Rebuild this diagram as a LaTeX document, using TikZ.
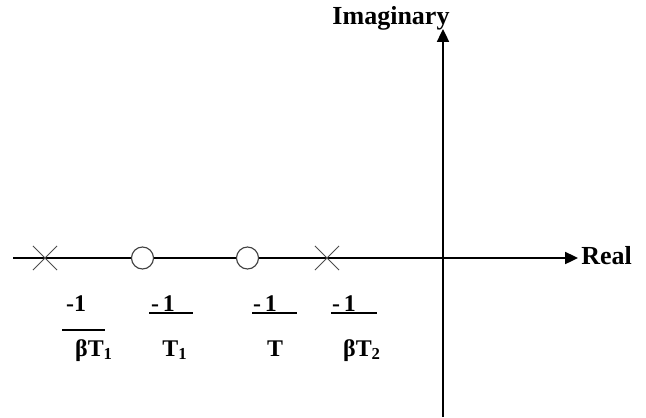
\documentclass[tikz,border=0pt]{standalone}
\usepackage{fontspec}
\setmainfont{Liberation Serif}
\usetikzlibrary{arrows.meta, shapes.misc}
\tikzset{
  >={Triangle[length=3.2mm,width=3mm]},
  axis/.style={line width=1.2pt, ->},
  pole/.style={cross out, draw=black!70, line width=0.7pt,
    minimum size=0.58cm, inner sep=0pt},
  zero/.style={circle, draw=black!75, fill=white, line width=0.8pt,
    minimum size=0.55cm, inner sep=0pt},
  axlab/.style={font=\fontsize{18.5}{20}\selectfont\bfseries, inner sep=0pt},
  lbl/.style={font=\fontsize{17}{20}\selectfont\bfseries, inner sep=0pt},
  bar/.style={line width=1pt}
}

\begin{document}
\begin{tikzpicture}[x=0.025cm, y=-0.025cm]
  \useasboundingbox (0,0) rectangle (646,417);
  % axes
  \coordinate (W) at (13,258);
  \coordinate (E) at (578,258);
  \coordinate (S) at (443,417);
  \coordinate (N) at (443,29);
  \draw[axis] (W) -- (E);
  \draw[axis] (S) -- (N);
  \node[axlab, anchor=west] (re) at (581,256) {Real};
  \node[axlab, anchor=base] (im) at (391,24) {Imaginary};

  % poles and zeros
  \node[pole] (p1) at (45,258) {};
  \node[zero] (z1) at (142.5,258) {};
  \node[zero] (z2) at (247.5,258) {};
  \node[pole] (p2) at (327,258) {};

  % labels
  \node[lbl, anchor=base] (n1) at (76,311) {-1};
  \draw[bar] (62,330) -- (105,330);
  \node[lbl, anchor=base] (d1) at (94,356) {βT\textsubscript{1}};

  \node[lbl, anchor=base] (n2) at (163,311) {-\,1};
  \draw[bar] (149,313) -- (193,313);
  \node[lbl, anchor=base] (d2) at (175,356) {T\textsubscript{1}};

  \node[lbl, anchor=base] (n3) at (265,311) {-\,1};
  \draw[bar] (252,313) -- (297,313);
  \node[lbl, anchor=base] (d3) at (275,356) {T};

  \node[lbl, anchor=base] (n4) at (344,311) {-\,1};
  \draw[bar] (331,313) -- (377,313);
  \node[lbl, anchor=base] (d4) at (362,356) {βT\textsubscript{2}};
\end{tikzpicture}
\end{document}
